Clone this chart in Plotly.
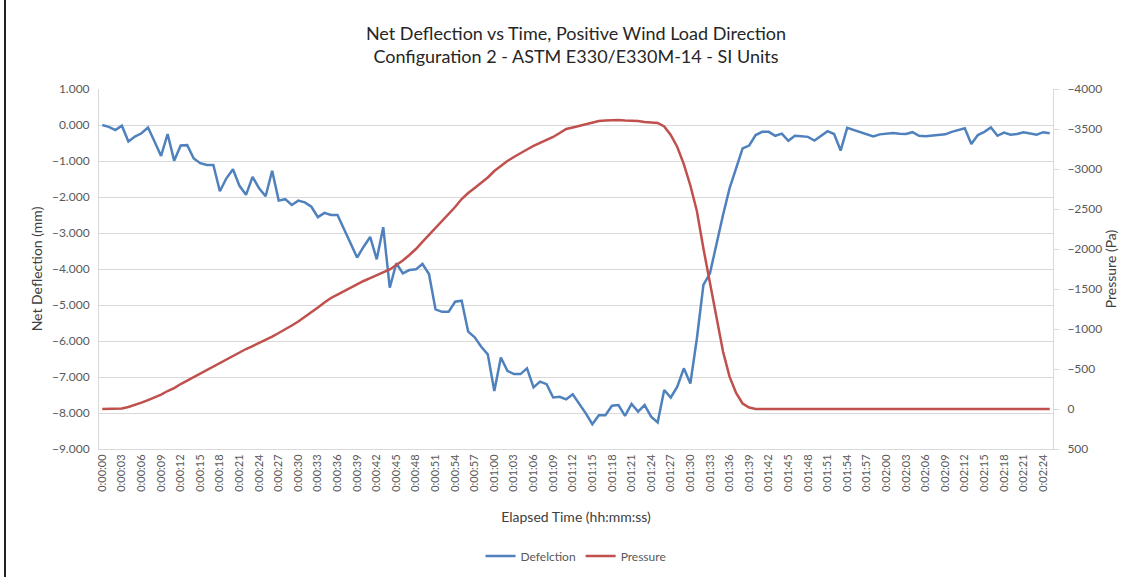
import plotly.graph_objects as go

# ---- data ----
seconds = list(range(146))
time_labels = [f"0:{s // 60:02d}:{s % 60:02d}" for s in seconds]

deflection = [
    0.00, -0.05, -0.14, -0.02, -0.46, -0.32, -0.23, -0.07, -0.46, -0.86,
    -0.25, -0.99, -0.57, -0.56, -0.93, -1.06, -1.11, -1.11, -1.84, -1.48,
    -1.23, -1.69, -1.94, -1.44, -1.76, -1.98, -1.27, -2.10, -2.06, -2.22,
    -2.10, -2.15, -2.27, -2.56, -2.44, -2.50, -2.50, -2.90, -3.29, -3.68,
    -3.38, -3.11, -3.73, -2.84, -4.52, -3.84, -4.12, -4.03, -4.01, -3.86,
    -4.14, -5.12, -5.19, -5.19, -4.91, -4.88, -5.74, -5.90, -6.16, -6.37,
    -7.39, -6.46, -6.83, -6.92, -6.92, -6.76, -7.29, -7.13, -7.20, -7.57,
    -7.55, -7.62, -7.48, -7.73, -8.01, -8.31, -8.06, -8.06, -7.80, -7.78,
    -8.08, -7.75, -7.96, -7.78, -8.10, -8.26, -7.36, -7.57, -7.27, -6.76,
    -7.18, -5.93, -4.44, -4.12, -3.29, -2.50, -1.76, -1.20, -0.65, -0.57,
    -0.28, -0.19, -0.19, -0.30, -0.24, -0.44, -0.30, -0.31, -0.33, -0.43,
    -0.31, -0.17, -0.25, -0.71, -0.08, -0.14, -0.20, -0.27, -0.32, -0.26,
    -0.24, -0.22, -0.24, -0.25, -0.20, -0.30, -0.31, -0.29, -0.26, -0.26,
    -0.19, -0.14, -0.09, -0.53, -0.28, -0.19, -0.07, -0.30, -0.21, -0.27,
    -0.25, -0.20, -0.23, -0.27, -0.20, -0.23,
]

pressure = [
    0, 0, 0, -6, -25, -50, -80, -112, -145, -180,
    -225, -262, -312, -356, -405, -450, -495, -538, -575, -620,
    -662, -705, -750, -787, -825, -862, -906, -950, -994, -1044,
    -1094, -1150, -1206, -1269, -1331, -1388, -1431, -1475, -1519, -1562,
    -1600, -1637, -1675, -1706, -1744, -1800, -1856, -1925, -2000, -2088,
    -2175, -2262, -2350, -2425, -2525, -2625, -2700, -2762, -2825, -2894,
    -2975, -3038, -3100, -3150, -3200, -3244, -3288, -3325, -3362, -3400,
    -3450, -3500, -3519, -3538, -3562, -3581, -3600, -3606, -3612, -3612,
    -3606, -3606, -3600, -3588, -3579, -3575, -3531, -3425, -3275, -3062,
    -2794, -2475, -2006, -1566, -1175, -719, -405, -200, -69, -19,
    0, 0, 0, 0, 0, 0, 0, 0, 0, 0,
    0, 0, 0, 0, 0, 0, 0, 0, 0, 0,
    0, 0, 0, 0, 0, 0, 0, 0, 0, 0,
    0, 0, 0, 0, 0, 0, 0, 0, 0, 0,
    0, 0, 0, 0, 0, 0,
]

left_ticks = [1, 0, -1, -2, -3, -4, -5, -6, -7, -8, -9]
right_ticks = [-4000, -3500, -3000, -2500, -2000, -1500, -1000, -500, 0, 500]
x_ticks = time_labels[::3]

# ---- styling ----
FONT = "Lato"
GRID = "#d9d9d9"
TXT = "#595959"
BLUE = "#4f81bd"
RED = "#c0504d"

W, H = 1134, 577
ML, MR, MT, MB = 99, 81, 89, 128
PW, PH = W - ML - MR, H - MT - MB

fig = go.Figure()
fig.add_trace(go.Scatter(x=time_labels, y=deflection, name="Defelction",
                         mode="lines", line=dict(color=BLUE, width=2.5),
                         yaxis="y"))
fig.add_trace(go.Scatter(x=time_labels, y=pressure, name="Pressure",
                         mode="lines", line=dict(color=RED, width=2.5),
                         yaxis="y2"))

fig.update_layout(
    width=W, height=H,
    margin=dict(l=ML, r=MR, t=MT, b=MB, autoexpand=False),
    paper_bgcolor="white", plot_bgcolor="white",
    font=dict(family=FONT, size=12, color=TXT),
    title=dict(
        text="Net Deflection vs Time, Positive Wind Load Direction<br>"
             "Configuration 2 - ASTM E330/E330M-14 - SI Units",
        x=0.5, xref="paper", xanchor="center",
        y=1 - 40 / H, yref="container", yanchor="middle",
        font=dict(family=FONT, size=18, color="#262626"),
    ),
    xaxis=dict(
        type="category", categoryorder="array", categoryarray=time_labels,
        range=[-0.5, len(time_labels) - 0.5],
        tickmode="array", tickvals=x_ticks, ticktext=x_ticks,
        tickangle=-90, tickfont=dict(size=11, color=TXT),
        showgrid=False, showline=True, linecolor=GRID, linewidth=1,
        ticks="", zeroline=False,
        title=dict(text="Elapsed Time (hh:mm:ss)",
                   font=dict(size=14, color="#404040"), standoff=21),
    ),
    yaxis=dict(
        range=[-9, 1], tickmode="array", tickvals=left_ticks,
        tickformat=".3f", tickfont=dict(size=12, color=TXT),
        showgrid=True, gridcolor=GRID, gridwidth=1,
        showline=True, linecolor=GRID, zeroline=False, ticks="",
        ticklabelstandoff=6,
        title=dict(text="Net Deflection (mm)",
                   font=dict(size=14, color="#404040"), standoff=6),
    ),
    yaxis2=dict(
        overlaying="y", side="right", range=[500, -4000],
        tickmode="array", tickvals=right_ticks,
        tickfont=dict(size=12, color=TXT),
        showgrid=False, showline=True, linecolor=GRID, zeroline=False,
        ticks="outside", ticklen=5, tickcolor=GRID,
        ticklabelstandoff=6,
        title=dict(text="Pressure (Pa)",
                   font=dict(size=14, color="#404040"), standoff=4),
    ),
    legend=dict(
        orientation="h", x=0.5, xanchor="center",
        y=(MT + PH - 556) / PH, yanchor="middle",
        font=dict(size=12, color=TXT), bgcolor="rgba(0,0,0,0)",
    ),
    showlegend=True,
)

# outer frame line on the left edge of the image
fig.add_shape(type="line", xref="paper", yref="paper",
              x0=(5 - ML) / PW, x1=(5 - ML) / PW,
              y0=(MT + PH - 0) / PH, y1=(MT + PH - H) / PH,
              line=dict(color="#222222", width=2))

fig.write_html(
    "out.html",
    config={"displayModeBar": False},
    post_script="document.body.style.margin='0';"
                "document.documentElement.style.margin='0';",
)
